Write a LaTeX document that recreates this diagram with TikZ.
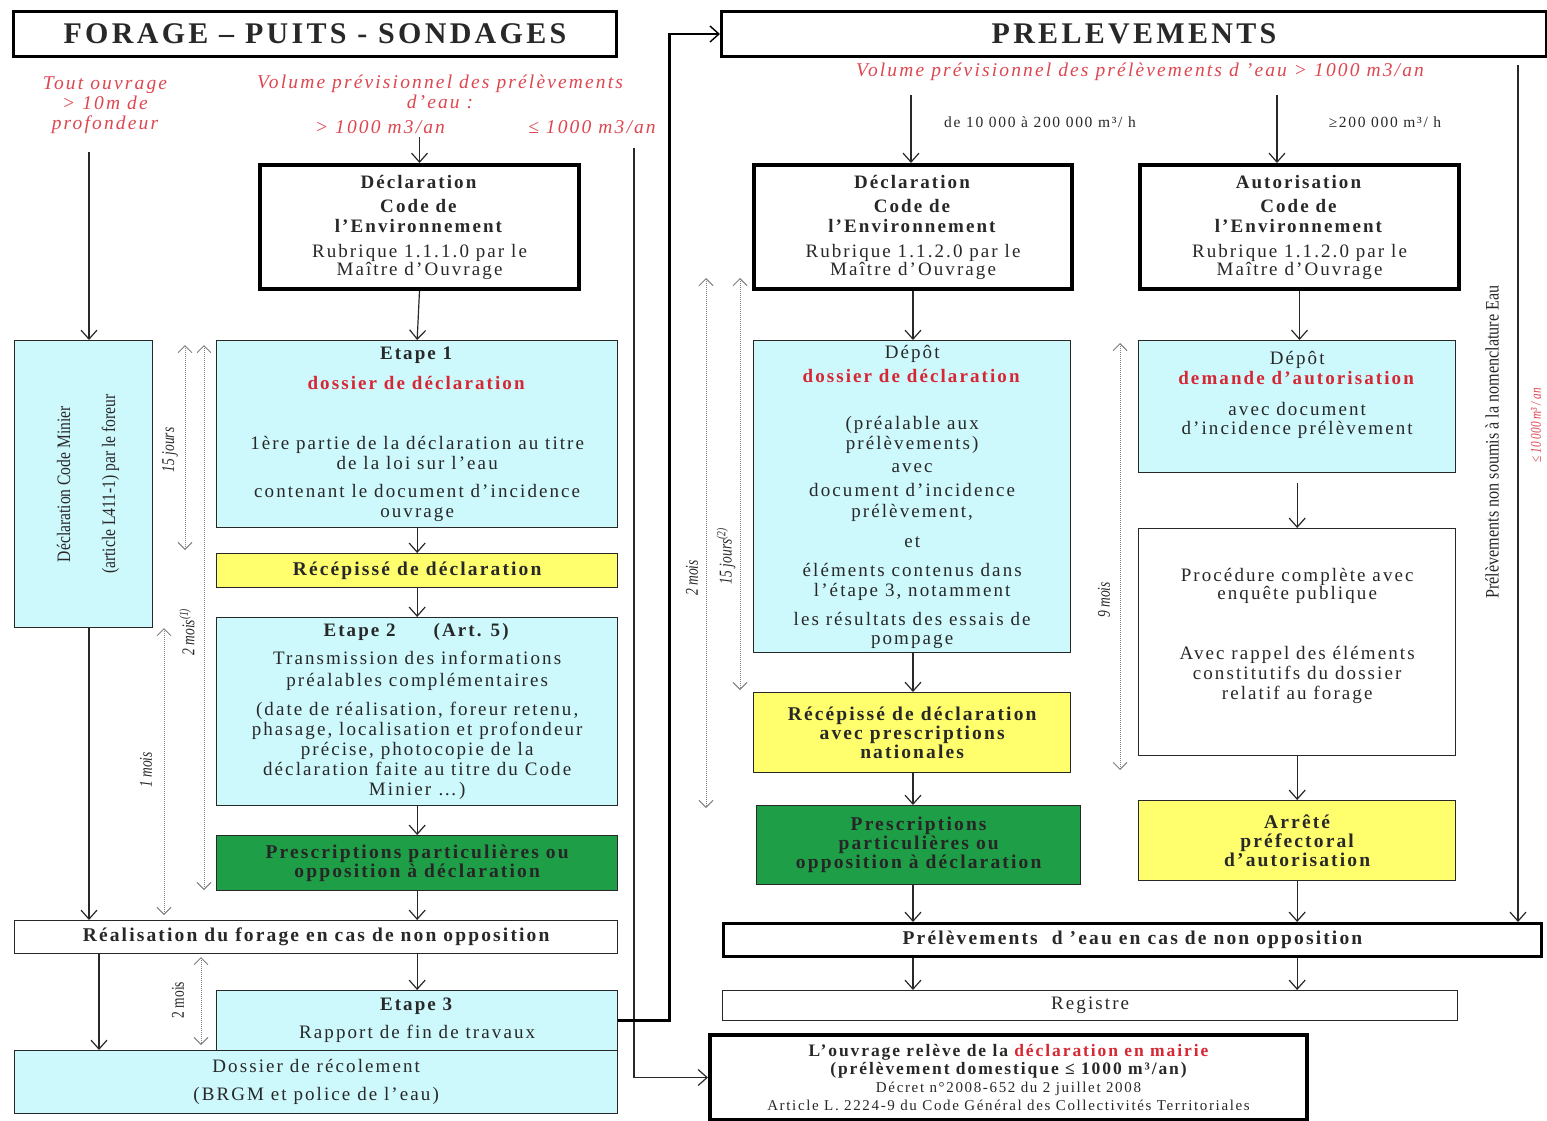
\documentclass[tikz,border=0pt]{standalone}
\usepackage{fontspec}
\setmainfont{Liberation Serif}[LetterSpace=11]
\newfontfamily\cond{Liberation Serif}
\usetikzlibrary{arrows.meta}
\definecolor{cy}{RGB}{205,248,252}
\definecolor{ye}{RGB}{255,255,110}
\definecolor{gr}{RGB}{30,158,70}
\definecolor{rd}{RGB}{214,40,52}
\definecolor{rdl}{RGB}{222,70,80}
\definecolor{ink}{RGB}{40,40,40}
\newcommand{\B}[1]{\textbf{#1}}
\newcommand{\R}[1]{\textcolor{rd}{\textbf{#1}}}
\begin{document}
\begin{tikzpicture}[x=1pt,y=-1pt,
  box/.style={draw=ink, line width=1.3pt, anchor=north west, align=center, inner sep=0pt, text=ink, font=\fontsize{19}{20}\selectfont},
  bbox/.style={box, line width=4pt, draw=black},
  tbox/.style={box, line width=3pt, draw=black, font=\bfseries\fontsize{30}{32}\selectfont},
  cybox/.style={box, fill=cy},
  yebox/.style={box, fill=ye, font=\bfseries\fontsize{19.5}{19}\selectfont},
  grbox/.style={box, fill=gr, text=black!85, font=\bfseries\fontsize{19.5}{19}\selectfont},
  redlab/.style={text=rdl, align=center, inner sep=0pt, font=\itshape\fontsize{19.5}{20}\selectfont},
  lab/.style={text=ink, inner sep=0pt, font=\fontsize{15.5}{16}\selectfont},
  tlab/.style={text=ink, inner sep=0pt, rotate=90, font=\cond\itshape\fontsize{18}{18}\selectfont},
  arr/.style={draw=ink, line width=1.2pt, -{Straight Barb[length=9pt,width=16pt,line width=1.2pt]}},
  tarr/.style={draw=gray, line width=0.9pt, dash pattern=on 1pt off 1pt,
     {Straight Barb[length=7pt,width=14pt,line width=1pt]}-{Straight Barb[length=7pt,width=14pt,line width=1pt]}},
]
\fill[white] (0,0) rectangle (1547,1120);
\useasboundingbox (0,0) rectangle (1547,1120);

% ---------------- titles
\node[tbox, minimum width=603pt, minimum height=45pt] (t1) at (12,10) {FORAGE -- PUITS - SONDAGES};
\node[tbox, minimum width=825pt, minimum height=45pt] (t2) at (720,10) {PRELEVEMENTS};

% ---------------- red labels
\node[redlab] (touv) at (105,105) {Tout ouvrage\\> 10m de\\profondeur};
\node[redlab] (tvol) at (440,92) {Volume prévisionnel des prélèvements\\d’eau :};
\node[redlab] (tgt) at (380,127) {> 1000 m3/an};
\node[redlab] (tle) at (592,127) {≤ 1000 m3/an};
\node[redlab] (tvol2) at (1140,72) {Volume prévisionnel des prélèvements d ’eau > 1000 m3/an};
\node[lab] (l1) at (1040,122) {de 10 000 à 200 000 m³/ h};
\node[lab] (l2) at (1385,122) {≥200 000 m³/ h};

% ---------------- left column
\node[bbox, minimum width=319pt, minimum height=124pt] (decl1) at (258,163)
 {\B{Déclaration}\\[4pt]\B{Code de}\\\B{l’Environnement}\\[5pt]Rubrique 1.1.1.0 par le\\[-2pt]Maître d’Ouvrage};
\node[cybox, minimum width=401pt, minimum height=187pt] (etape1) at (216,340)
 {\B{Etape 1}\\[10pt]\R{dossier de déclaration}\\[40pt]1ère partie de la déclaration au titre\\de la loi sur l’eau\\[8pt]contenant le document d’incidence\\ouvrage};
\node[yebox, minimum width=401pt, minimum height=34pt] (recep1) at (216,553) {Récépissé de déclaration};
\node[cybox, minimum width=401pt, minimum height=188pt] (etape2) at (216,617)
 {\B{Etape 2\qquad(Art. 5)}\\[8pt]Transmission des informations\\[2pt]préalables complémentaires\\[9pt](date de réalisation, foreur retenu,\\phasage, localisation et profondeur\\précise, photocopie de la\\déclaration faite au titre du Code\\Minier …)};
\node[grbox, minimum width=401pt, minimum height=55pt] (presc1) at (216,835)
 {Prescriptions particulières ou\\opposition à déclaration};
\node[box, minimum width=603pt, minimum height=33pt, font=\bfseries\fontsize{19.5}{19}\selectfont] (realis) at (14,920)
 {Réalisation du forage en cas de non opposition};
\node[cybox, minimum width=603pt, minimum height=63pt] (dossier) at (14,1050)
 {Dossier de récolement\\[8pt](BRGM et police de l’eau)};
\node[cybox, minimum width=401pt, minimum height=60pt] (etape3) at (216,990)
 {\B{Etape 3}\\[8pt]Rapport de fin de travaux};
\node[cybox, minimum width=138pt, minimum height=287pt] (minier) at (14,340)
 {\rotatebox{90}{\cond\fontsize{19}{45}\selectfont\scalebox{0.82}[1]{\begin{tabular}{c}Déclaration Code Minier\\(article L411-1) par le foreur\end{tabular}}}};

% ---------------- right columns
\node[bbox, minimum width=318pt, minimum height=124pt] (decl2) at (752,163)
 {\B{Déclaration}\\[4pt]\B{Code de}\\\B{l’Environnement}\\[5pt]Rubrique 1.1.2.0 par le\\[-2pt]Maître d’Ouvrage};
\node[bbox, minimum width=319pt, minimum height=124pt] (autor) at (1138,163)
 {\B{Autorisation}\\[4pt]\B{Code de}\\\B{l’Environnement}\\[5pt]Rubrique 1.1.2.0 par le\\[-2pt]Maître d’Ouvrage};
\node[cybox, minimum width=317pt, minimum height=312pt] (depot1) at (753,340)
 {Dépôt\\[4pt]\R{dossier de déclaration}\\[27pt](préalable aux\\prélèvements)\\[3pt]avec\\[4pt]document d’incidence\\[1pt]prélèvement,\\[10pt]et\\[9pt]éléments contenus dans\\l’étape 3, notamment\\[9pt]les résultats des essais de\\[-1pt]pompage};
\node[yebox, minimum width=317pt, minimum height=80pt] (recep2) at (753,692)
 {Récépissé de déclaration\\avec prescriptions\\nationales};
\node[grbox, minimum width=324pt, minimum height=79pt] (presc2) at (756,805)
 {Prescriptions\\particulières ou\\opposition à déclaration};
\node[cybox, minimum width=317pt, minimum height=132pt] (depot2) at (1138,340)
 {Dépôt\\\R{demande d’autorisation}\\[11pt]avec document\\[-1pt]d’incidence prélèvement\\[8pt]\mbox{}};
\node[box, minimum width=317pt, minimum height=227pt] (proc) at (1138,528)
 {Procédure complète avec\\[-2pt]enquête publique\\[40pt]Avec rappel des éléments\\constitutifs du dossier\\relatif au forage\\[-4pt]\mbox{}};
\node[yebox, minimum width=317pt, minimum height=80pt] (arrete) at (1138,800)
 {Arrêté\\préfectoral\\d’autorisation};
\node[box, line width=3pt, draw=black, minimum width=818pt, minimum height=33pt, font=\bfseries\fontsize{19.5}{19}\selectfont] (prel) at (722,922)
 {Prélèvements\ \ d ’eau en cas de non opposition};
\node[box, minimum width=735pt, minimum height=30pt] (registre) at (722,990) {Registre};
\node[bbox, minimum width=597pt, minimum height=85pt, font=\fontsize{15}{18}\selectfont] (ouvr) at (708,1033)
 {{\bfseries\fontsize{17.5}{18}\selectfont L’ouvrage relève de la \textcolor{rd}{déclaration en mairie}}\\
  {\bfseries\fontsize{17.5}{18}\selectfont (prélèvement domestique ≤ 1000 m³/an)}\\
  Décret n°2008-652 du 2 juillet 2008\\
  Article L. 2224-9 du Code Général des Collectivités Territoriales};

% ---------------- rotated side labels
\node[text=ink, inner sep=0pt, rotate=90, font=\cond\fontsize{19}{20}\selectfont] (nsl) at (1492,442)
 {\scalebox{0.85}[1]{Prélèvements non soumis à la nomenclature Eau}};
\node[text=rdl, inner sep=0pt, rotate=90, font=\cond\itshape\fontsize{15}{16}\selectfont] (r10) at (1536,425)
 {\scalebox{0.75}[1]{≤ 10 000 m³ / an}};

% ---------------- connectors left
\coordinate (ouvtop) at (89,152);
\draw[arr] (ouvtop) -- (ouvtop |- minier.north);
\draw[arr] (ouvtop |- minier.south) -- (ouvtop |- realis.north);
\coordinate (dosx) at (99,953);
\draw[arr] (dosx) -- (dosx |- dossier.north);
\draw[arr] (decl1.north |- tgt.south) ++(0,3) -- (decl1.north);
\draw[arr] (decl1.south) -- (etape1.north);
\draw[arr] (etape1.south) -- (recep1.north);
\draw[arr] (recep1.south) -- (etape2.north);
\draw[arr] (etape2.south) -- (presc1.north);
\draw[arr] (presc1.south) -- (presc1.south |- realis.north);
\draw[arr] (realis.south -| etape3.north) -- (etape3.north);
\coordinate (letop) at (634,148);
\draw[arr] (letop) |- (ouvr.west);
\draw[line width=2.6pt, draw=black, -{Straight Barb[length=9pt,width=16pt,line width=1.4pt]}] (etape3.east) -- ++(51,0) |- (t2.west);

% ---------------- connectors right
\coordinate (c1) at (911,95);
\draw[arr] (c1) -- (c1 |- decl2.north);
\coordinate (c2) at (1277,95);
\draw[arr] (c2) -- (c2 |- autor.north);
\draw[arr] (decl2.south) -- (decl2.south |- depot1.north);
\draw[arr] (decl2.south |- depot1.south) -- (decl2.south |- recep2.north);
\draw[arr] (decl2.south |- recep2.south) -- (decl2.south |- presc2.north);
\draw[arr] (decl2.south |- presc2.south) -- (decl2.south |- prel.north);
\draw[arr] (autor.south) -- (autor.south |- depot2.north);
\draw[arr] (depot2.south) ++(0,10) -- (proc.north);
\draw[arr] (proc.south) -- (arrete.north);
\draw[arr] (arrete.south) -- (arrete.south |- prel.north);
\coordinate (nstop) at (1518,65);
\draw[arr] (nstop) -- (nstop |- prel.north);
\draw[arr] (decl2.south |- prel.south) -- (decl2.south |- registre.north);
\draw[arr] (arrete.south |- prel.south) -- (arrete.south |- registre.north);

% ---------------- timing arrows
\coordinate (a15t) at (185,345); \coordinate (a15b) at (185,550);
\draw[tarr] (a15t) -- (a15b);
\node[tlab] (l15) at (170,450) {\scalebox{0.75}[1]{15 jours}};
\coordinate (a2t) at (204,345); \coordinate (a2b) at (204,890);
\draw[tarr] (a2t) -- (a2b);
\node[tlab] (l2m) at (187,632) {\scalebox{0.75}[1]{2 mois\textsuperscript{(1)}}};
\coordinate (a1t) at (164,628); \coordinate (a1b) at (164,915);
\draw[tarr] (a1t) -- (a1b);
\node[tlab] (l1m) at (146,770) {\scalebox{0.75}[1]{1 mois}};
\coordinate (a3t) at (201,957); \coordinate (a3b) at (201,1045);
\draw[tarr] (a3t) -- (a3b);
\node[tlab, font=\cond\fontsize{18}{18}\selectfont] (l3m) at (178,1000) {\scalebox{0.75}[1]{2 mois}};

\coordinate (b2t) at (706,278); \coordinate (b2b) at (706,808);
\draw[tarr] (b2t) -- (b2b);
\node[tlab] (lb2) at (692,578) {\scalebox{0.75}[1]{2 mois}};
\coordinate (b15t) at (740,278); \coordinate (b15b) at (740,690);
\draw[tarr] (b15t) -- (b15b);
\node[tlab] (lb15) at (726,556) {\scalebox{0.75}[1]{15 jours\textsuperscript{(2)}}};
\coordinate (b9t) at (1120,343); \coordinate (b9b) at (1120,770);
\draw[tarr] (b9t) -- (b9b);
\node[tlab] (lb9) at (1104,600) {\scalebox{0.75}[1]{9 mois}};
\end{tikzpicture}
\end{document}
